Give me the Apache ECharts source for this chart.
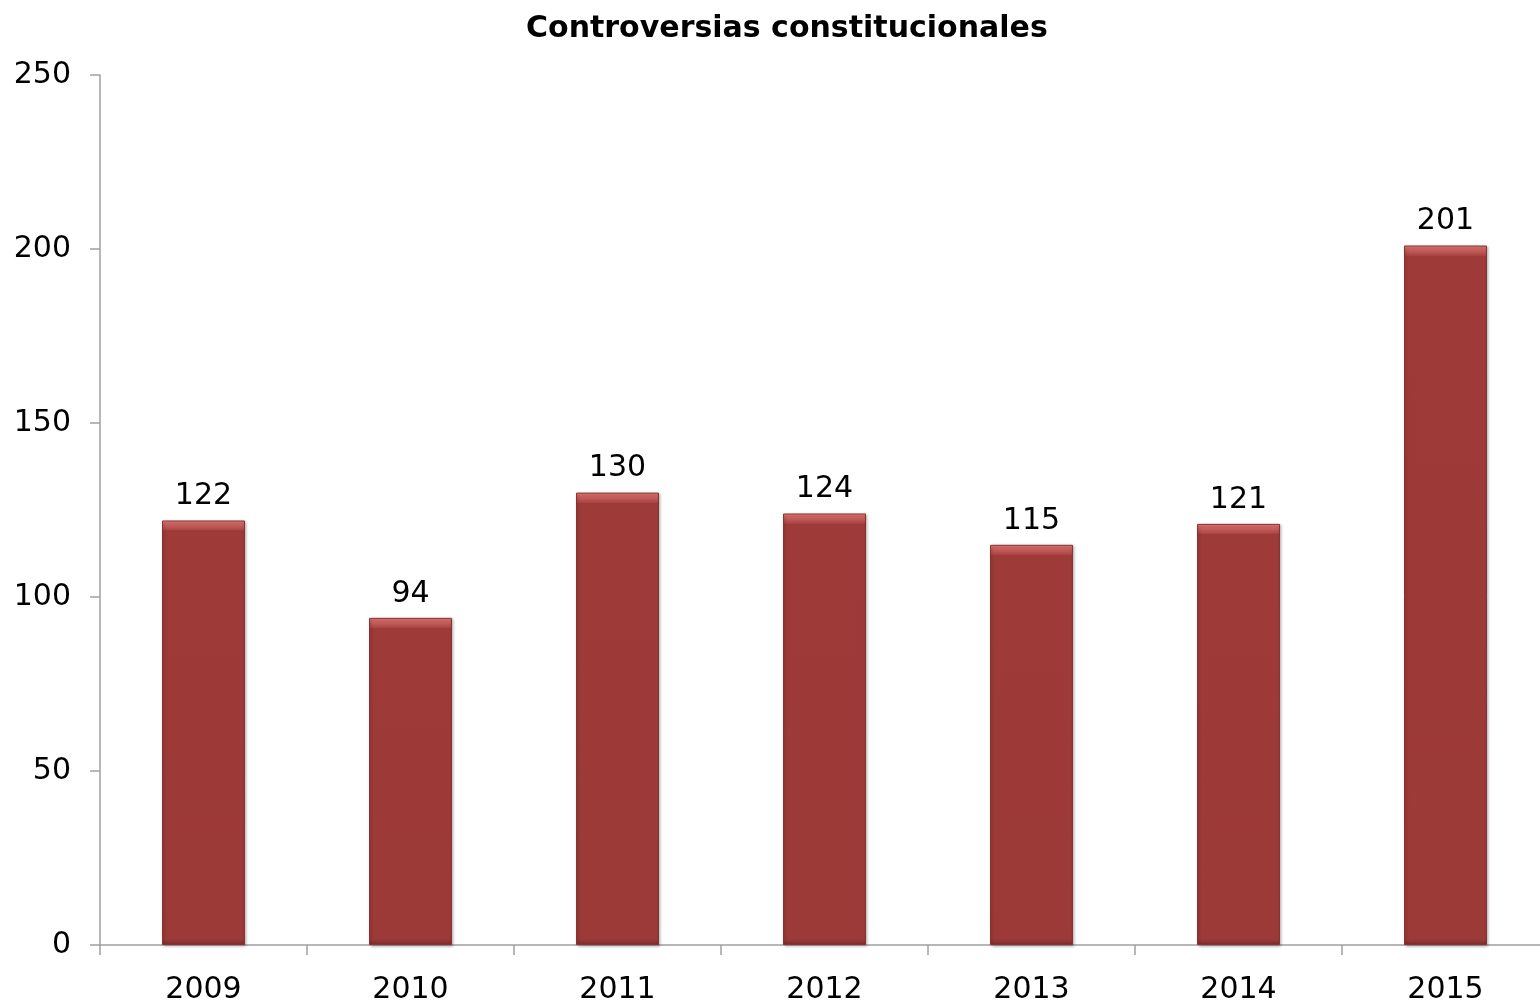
<!DOCTYPE html>
<html><head><meta charset="utf-8">
<script src="https://cdn.jsdelivr.net/npm/echarts@6/dist/echarts.min.js"></script>
<style>html,body{margin:0;padding:0;background:#fff}#c{width:1540px;height:1001px}</style>
</head><body><div id="c"></div>
<script>
const categories = ['2009','2010','2011','2012','2013','2014','2015'];
const values = [122, 94, 130, 124, 115, 121, 201];
const yTicks = [0, 50, 100, 150, 200, 250];
const titleText = 'Controversias constitucionales';

const chart = echarts.init(document.getElementById('c'));
const font = 'DejaVu Sans, Verdana, sans-serif';
const plotH = 870, yMax = yTicks[yTicks.length-1];
const bevelPx = 10;
function barStyle(v) {
  const h = v * plotH / yMax;
  const t = bevelPx / h;
  return {
    color: { type: 'linear', x: 0, y: 0, x2: 0, y2: 1, colorStops: [
      { offset: 0, color: '#ee8a86' },
      { offset: t * 0.3, color: '#d06663' },
      { offset: t, color: '#a84544' },
      { offset: t * 1.01, color: '#9e3b39' },
      { offset: 1 - t * 0.6, color: '#9c3a38' },
      { offset: 1, color: '#7f2e2c' } ] },
    borderColor: '#8a3230', borderWidth: 1
  };
}
chart.setOption({
  animation: false,
  title: { text: titleText, left: 521, top: 9,
    textStyle: { fontFamily: font, fontWeight: 'bold', fontSize: 30, color: '#000' } },
  grid: { left: 100, top: 75, width: 1449, height: 870, containLabel: false, outerBoundsMode: 'none' },
  xAxis: { type: 'category', data: categories,
    axisLine: { lineStyle: { color: '#a0a0a0', width: 1.5 } },
    axisTick: { show: true, length: 10, lineStyle: { color: '#a0a0a0', width: 1.5 } },
    axisLabel: { fontFamily: font, fontSize: 30, color: '#000', margin: 30 } },
  yAxis: { type: 'value', min: yTicks[0], max: yMax, interval: 50,
    axisLine: { show: true, lineStyle: { color: '#a0a0a0', width: 1.5 } },
    axisTick: { show: true, length: 10, lineStyle: { color: '#a0a0a0', width: 1.5 } },
    splitLine: { show: false },
    axisLabel: { fontFamily: font, fontSize: 30, color: '#000', margin: 29 } },
  series: [{
    type: 'bar', barWidth: 83,
    data: values.map(v => ({ value: v, itemStyle: barStyle(v) })),
    itemStyle: { shadowColor: 'rgba(0,0,0,0.3)', shadowBlur: 3, shadowOffsetX: 1, shadowOffsetY: 1 },
    label: { show: true, position: 'top', distance: 9, fontFamily: font, fontSize: 30, color: '#000' }
  }]
});
</script></body></html>
